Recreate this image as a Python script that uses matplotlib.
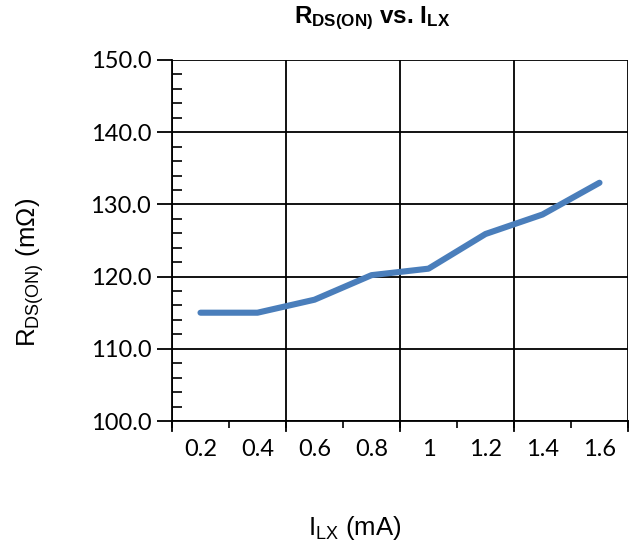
import matplotlib
matplotlib.use("Agg")
import matplotlib.pyplot as plt
from matplotlib.ticker import FixedLocator, MultipleLocator

plt.rcParams["mathtext.fontset"] = "custom"
plt.rcParams["mathtext.rm"] = "Liberation Sans"
plt.rcParams["mathtext.bf"] = "Liberation Sans:bold"

# load current (mA) and measured on-resistance (mOhm)
i_lx = ["0.2", "0.4", "0.6", "0.8", "1", "1.2", "1.4", "1.6"]
r_dson = [115.0, 115.0, 116.8, 120.2, 121.1, 125.9, 128.6, 133.0]

fig = plt.figure(figsize=(6.29, 5.47), dpi=100)
ax = fig.add_axes([172 / 629, 1 - 421 / 547, 456 / 629, 361 / 547])

x = range(len(i_lx))
ax.plot(x, r_dson, color="#4a7ebb", linewidth=4.4, solid_capstyle="round",
        solid_joinstyle="round", zorder=3)

ax.set_xlim(-0.5, len(i_lx) - 0.5)
ax.set_ylim(100, 150)

# category axis: labels centred, gridlines every second boundary
ax.set_xticks(list(x))
ax.set_xticklabels(i_lx, fontfamily="Lato", fontsize=17)
ax.tick_params(axis="x", which="major", length=0, pad=13)
ax.xaxis.set_minor_locator(FixedLocator([k - 0.5 for k in range(len(i_lx) + 1)]))
ax.tick_params(axis="x", which="minor", direction="out", length=5, width=1.2)
for k in range(0, len(i_lx) + 1, 2):
    ax.axvline(k - 0.5, color="black", linewidth=1.3, zorder=1)
    ax.plot([k - 0.5, k - 0.5], [0, -0.028], transform=ax.get_xaxis_transform(),
            color="black", linewidth=1.3, clip_on=False)

ax.yaxis.set_major_locator(MultipleLocator(10))
ax.yaxis.set_minor_locator(MultipleLocator(2))
ax.set_yticklabels([f"{v:.1f}" for v in ax.get_yticks()], fontfamily="Lato", fontsize=17)
ax.tick_params(axis="y", which="major", direction="out", length=11, width=1.3, pad=4)
ax.tick_params(axis="y", which="minor", direction="in", length=7, width=1.2)
ax.grid(axis="y", which="major", color="black", linewidth=1.3, zorder=1)

for side in ["left", "bottom", "right", "top"]:
    ax.spines[side].set_linewidth(1.3)
ax.spines["right"].set_visible(False)
ax.spines["top"].set_visible(False)

fig.text(372 / 629, 1 - 18 / 547, r"$\mathbf{R_{DS(ON)}}$ vs. $\mathbf{I_{LX}}$",
         ha="center", va="center", fontfamily="Liberation Sans",
         fontweight="bold", fontsize=17.5)
fig.text(355 / 629, 1 - 528 / 547, r"$\mathrm{I_{LX}}$ (mA)",
         ha="center", va="center", fontfamily="Liberation Sans", fontsize=18.5)
fig.text(30 / 629, 1 - 272 / 547, r"$\mathrm{R_{DS(ON)}}$ (mΩ)",
         ha="center", va="center", rotation=90,
         fontfamily="Liberation Sans", fontsize=18.5)

fig.savefig("out.png", dpi=100)
